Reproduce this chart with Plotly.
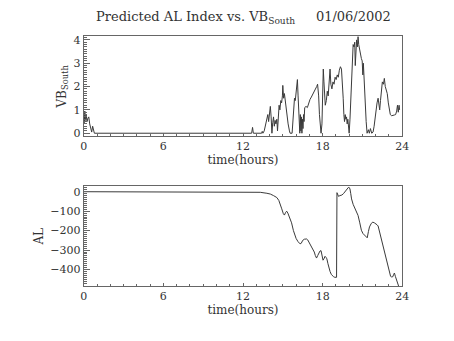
import plotly.graph_objects as go

vb_time = [0.00, 0.04, 0.08, 0.13, 0.18, 0.25, 0.32, 0.38, 0.45, 0.52, 0.6, 0.67, 0.73, 0.8,
           12.65, 12.72, 12.78, 13.4, 13.45, 13.5, 13.6, 13.7, 13.8, 13.87, 13.93, 14.0, 14.06,
           14.12, 14.18, 14.24, 14.3, 14.36, 14.42, 14.48, 14.55, 14.6, 14.66, 14.72, 14.78,
           14.85, 14.91, 14.97, 15.0, 15.06, 15.12, 15.2, 15.3, 15.4, 15.5, 15.55, 15.7, 15.76,
           15.82, 15.88, 15.94, 16.0, 16.06, 16.1, 16.15, 16.2, 16.25, 16.28, 16.32, 16.36, 16.4,
           16.44, 16.48, 16.52, 16.56, 16.6, 16.65, 16.75, 16.85, 16.95, 17.05, 17.15, 17.25,
           17.35, 17.45, 17.55, 17.62, 17.7, 17.76, 17.82, 17.88, 17.95, 18.0, 18.05, 18.1, 18.15,
           18.2, 18.28, 18.35, 18.42, 18.5, 18.56, 18.62, 18.7, 18.78, 18.86, 18.94, 19.02, 19.1,
           19.18, 19.26, 19.34, 19.42, 19.48, 19.55, 19.6, 19.65, 19.7, 19.75, 19.8, 19.85, 19.9,
           19.96, 20.0, 20.06, 20.12, 20.18, 20.24, 20.3, 20.36, 20.42, 20.46, 20.5, 20.56, 20.62,
           20.67, 20.72, 20.78, 20.85, 20.92, 20.98, 21.03, 21.07, 21.12, 21.2, 21.28, 21.35,
           21.45, 21.52, 21.6, 21.7, 21.8, 21.88, 21.95, 22.02, 22.1, 22.18, 22.25, 22.3, 22.36,
           22.42, 22.5, 22.58, 22.65, 22.72, 22.8, 22.87, 22.95, 23.02, 23.1, 23.2, 23.3, 23.4,
           23.5, 23.58, 23.64, 23.7, 23.76, 23.8]
vb_south = [0.85, 0.45, 0.95, 0.55, 0.8, 0.5, 0.65, 0.7, 0.4, 0.15, 0.05, 0.3, 0.1, 0.0,
            0.0, 0.25, 0.0, 0.0, 0.08, 0.0, 0.1, 0.35, 0.55, 0.8, 0.5, 1.05, 1.15,
            0.7, 0.0, 0.45, 0.7, 0.3, 0.55, 0.4, 0.6, 0.1, 0.9, 1.2, 1.0,
            1.4, 1.3, 1.6, 2.05, 1.5, 1.7, 1.3, 0.8, 0.4, 0.1, 0.0, 0.0, 0.5,
            1.0, 1.5, 1.4, 1.9, 2.1, 2.3, 1.6, 1.0, 0.3, 0.0, 0.8, 0.1, 0.7,
            0.0, 0.6, 0.2, 0.8, 0.5, 1.1, 1.15, 1.1, 1.3, 1.45, 1.55, 1.65,
            1.75, 1.85, 2.0, 2.1, 1.6, 0.8, 0.2, 0.0, 0.4, 1.5, 2.75, 2.2, 1.5,
            1.2, 1.4, 1.8, 1.6, 2.2, 2.75, 2.1, 1.9, 2.2, 2.1, 2.4, 2.3, 2.5,
            2.4, 2.7, 2.85, 2.75, 2.3, 1.5, 0.8, 0.5, 0.8, 0.6, 0.7, 0.4, 0.6,
            0.2, 0.0, 0.6, 1.5, 2.6, 3.3, 3.8, 3.7, 3.9, 2.9, 3.6, 4.0, 3.7,
            4.15, 3.8, 3.6, 3.3, 3.2, 3.1, 2.5, 3.0, 2.2, 1.2, 0.5, 0.0,
            0.15, 0.0, 0.2, 0.0, 0.05, 0.3, 0.7, 1.0, 1.3, 1.5, 1.3, 1.0, 1.4,
            1.9, 2.2, 2.1, 2.35, 2.0, 1.8, 1.7, 1.3, 1.0, 0.8, 0.75, 0.75, 0.78,
            0.8, 0.95, 1.2, 0.9, 1.2, 1.0]

al_time = [0.0, 6.0, 12.0, 12.8, 13.3, 13.8, 14.06, 14.3, 14.55, 14.7, 14.8, 14.92, 15.04,
           15.12, 15.2, 15.29, 15.38, 15.5, 15.66, 15.8, 15.9, 16.0, 16.14, 16.3, 16.39, 16.5,
           16.63, 16.8, 16.88, 17.0, 17.12, 17.25, 17.37, 17.45, 17.54, 17.63, 17.73, 17.8,
           17.88, 17.95, 18.03, 18.1, 18.18, 18.25, 18.32, 18.4, 18.47, 18.56, 18.66, 18.75,
           18.83, 18.92, 19.0, 19.05, 19.08, 19.14, 19.2, 19.3, 19.45, 19.57, 19.69, 19.82,
           19.94, 20.0, 20.06, 20.12, 20.18, 20.3, 20.43, 20.55, 20.67, 20.8, 20.92, 21.04,
           21.16, 21.26, 21.36, 21.45, 21.53, 21.65, 21.77, 21.9, 22.01, 22.1, 22.18, 22.28,
           22.38, 22.5, 22.63, 22.75, 22.87, 23.0, 23.12, 23.2, 23.29, 23.35, 23.41, 23.48,
           23.56, 23.65, 23.73]
al_index = [0, 0, 0, -1, -3, -8, -12, -20, -30, -45, -62, -88, -113,
            -120, -108, -100, -110, -130, -160, -200, -225, -240, -256, -268, -265, -250,
            -244, -243, -248, -262, -275, -295, -310, -328, -341, -328, -315, -305,
            -303, -330, -352, -345, -332, -337, -345, -370, -392, -410, -426, -433,
            -437, -440, -440, -440, -5, -20, -24, -20, -17, -10, 0, 15,
            22, 22, 14, -10, -37, -65, -88, -105, -122, -160, -198, -215,
            -223, -228, -237, -205, -181, -165, -156, -160, -164, -170, -176, -205,
            -232, -260, -291, -335, -376, -410, -435, -438, -437, -425, -418, -435,
            -452, -470, -486]

x_ticks = [0, 6, 12, 18, 24]
vb_ticks = [0, 1, 2, 3, 4]
al_ticks = [0, -100, -200, -300, -400]
vb_range = [-0.13, 4.15]
al_range = [-485, 27]

FONT = "DejaVu Serif"
TXT = "#333333"
LINE = "#666666"
XDOM = [0.18, 0.899]
YDOM1 = [0.601, 0.900]
YDOM2 = [0.1525, 0.4507]

fig = go.Figure()
fig.add_trace(go.Scatter(x=vb_time, y=vb_south, mode="lines",
                         line=dict(color="#3a3a3a", width=1), xaxis="x", yaxis="y",
                         showlegend=False))
fig.add_trace(go.Scatter(x=al_time, y=al_index, mode="lines",
                         line=dict(color="#3a3a3a", width=1), xaxis="x2", yaxis="y2",
                         showlegend=False))


def xax(anchor, side="bottom", overlay=None, labels=True):
    d = dict(domain=XDOM, anchor=anchor, range=[0, 24], tickvals=x_ticks, side=side,
             ticks="inside", ticklen=3, tickcolor=LINE, showline=True, mirror=True,
             linecolor=LINE, linewidth=1, showgrid=False, zeroline=False,
             minor=dict(dtick=1, ticks="inside", ticklen=2, tickcolor=LINE, showgrid=False),
             showticklabels=labels,
             tickfont=dict(family=FONT, size=11, color=TXT))
    if labels:
        d["title"] = dict(text="time(hours)", font=dict(family=FONT, size=12, color=TXT), standoff=2)
    if overlay:
        d["overlaying"] = overlay
    return d


def yax(domain, anchor, rng, tv, minor_dt, title=None, side="left", overlay=None):
    d = dict(domain=domain, anchor=anchor, range=rng, tickvals=tv, side=side,
             ticks="inside", ticklen=6, tickcolor=LINE, showline=True, mirror=True,
             linecolor=LINE, linewidth=1, showgrid=False, zeroline=False,
             minor=dict(dtick=minor_dt, ticks="inside", ticklen=3, tickcolor=LINE, showgrid=False),
             showticklabels=title is not None,
             tickfont=dict(family=FONT, size=11, color=TXT))
    if title:
        d["title"] = dict(text=title, font=dict(family=FONT, size=12, color=TXT), standoff=4)
    if overlay:
        d["overlaying"] = overlay
    return d


fig.update_layout(
    width=454, height=341, margin=dict(l=0, r=0, t=0, b=0),
    paper_bgcolor="white", plot_bgcolor="white",
    xaxis=xax("y"),
    yaxis=yax(YDOM1, "x", vb_range, vb_ticks, 0.1, "VB<sub>South</sub>"),
    xaxis2=xax("y2"),
    yaxis2=yax(YDOM2, "x2", al_range, al_ticks, 10, "AL"),
    # mirrored tick sets on top / right
    xaxis3=xax("y", side="top", overlay="x", labels=False),
    yaxis3=yax(YDOM1, "x", vb_range, vb_ticks, 0.1, side="right", overlay="y"),
    xaxis4=xax("y2", side="top", overlay="x2", labels=False),
    yaxis4=yax(YDOM2, "x2", al_range, al_ticks, 10, side="right", overlay="y2"),
    annotations=[dict(text="Predicted AL Index vs. VB<sub>South</sub>     01/06/2002",
                      x=0.54, y=1 - 26 / 341, xref="paper", yref="paper",
                      xanchor="center", yanchor="bottom", showarrow=False,
                      font=dict(family=FONT, size=13, color=TXT))],
)

fig.write_html("out.html")
